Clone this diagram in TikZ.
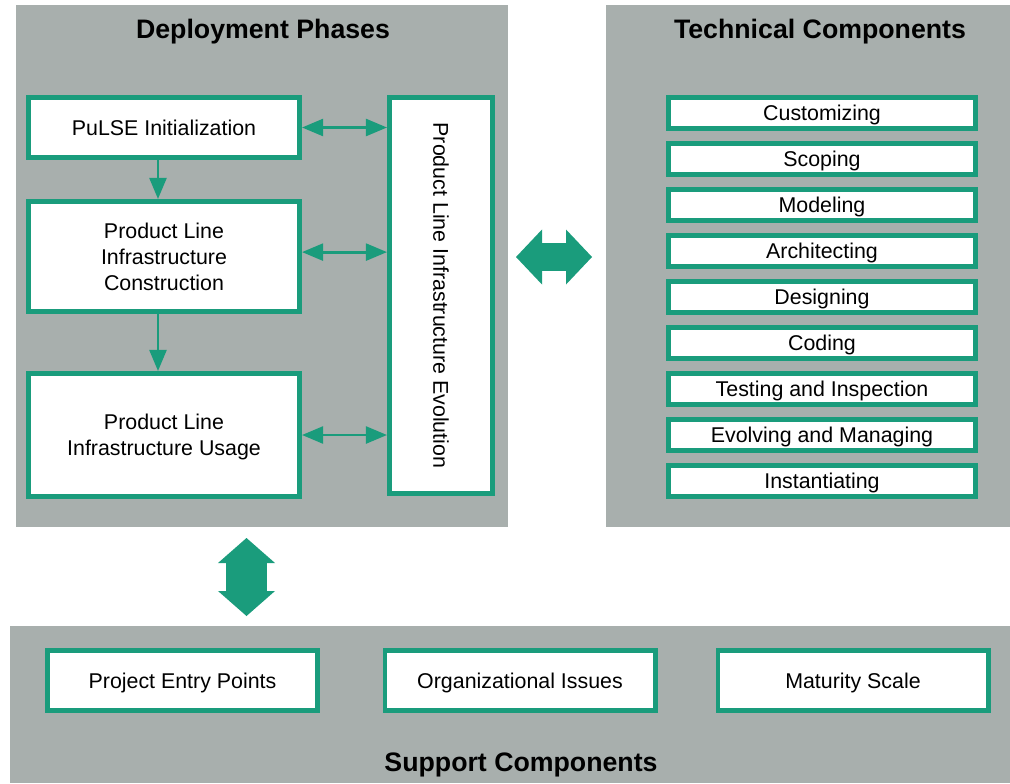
\documentclass[tikz,border=0pt]{standalone}
\usepackage{fontspec}
\setmainfont{Liberation Sans}
\usepackage{xcolor}
\usetikzlibrary{arrows.meta,positioning}

\definecolor{panelgray}{HTML}{A8AFAD}
\definecolor{pulsegreen}{HTML}{1A9C7C}

\tikzset{
	panel/.style={fill=panelgray, draw=none, inner sep=0pt},
	paneltitle/.style={font=\bfseries\fontsize{19}{22}\selectfont},
	phasebox/.style={draw=pulsegreen, line width=3.5pt, fill=white, align=center, inner sep=0pt, text depth=0pt, minimum width=6.775cm, font=\fontsize{15.2}{18.5}\selectfont},
	techbox/.style={phasebox, minimum width=7.675cm, minimum height=0.775cm},
	supbox/.style={phasebox, minimum width=6.75cm, minimum height=1.5cm},
	link/.style={pulsegreen, line width=2pt, {Triangle[length=15pt,width=12pt]}-{Triangle[length=15pt,width=12pt]}},
	flow/.style={pulsegreen, line width=2pt, -{Triangle[length=15pt,width=12pt]}},
	bigarrowh/.style={pulsegreen, line width=0.7cm, {Triangle[length=0.65cm,width=1.375cm,line width=0pt]}-{Triangle[length=0.65cm,width=1.375cm,line width=0pt]}},
	bigarrowv/.style={pulsegreen, line width=1cm, {Triangle[length=0.625cm,width=1.425cm,line width=0pt]}-{Triangle[length=0.625cm,width=1.425cm,line width=0pt]}}
}

\begin{document}
\begin{tikzpicture}[x=0.025cm, y=-0.025cm]
	\useasboundingbox (0,0) rectangle (1010,783);

	% panels
	\node[panel, minimum width=12.3cm, minimum height=13.05cm] (dep) at (262,266) {};
	\node[paneltitle] (deptitle) at (263,32) {Deployment Phases};

	\node[panel, minimum width=10.1cm, minimum height=13.05cm] (tech) at (808,266) {};
	\node[paneltitle] (techtitle) at (820,32) {Technical Components};

	\node[panel, minimum width=25cm, minimum height=3.925cm] (sup) at (510,704.5) {};
	\node[paneltitle] (suptitle) at (521,765) {Support Components};

	% deployment phases
	\node[phasebox, minimum height=1.5cm] (pi) at (164,127.5) {PuLSE Initialization};
	\node[phasebox, minimum height=2.75cm] (plc) at (164,256.5) {Product Line\\Infrastructure\\Construction};
	\node[phasebox, minimum height=3.075cm] (plu) at (164,435) {Product Line\\Infrastructure Usage};
	\node[phasebox, rotate=-90, minimum width=9.9cm, minimum height=2.575cm] (evol) at (441,295.5) {Product Line Infrastructure Evolution};

	\draw[flow] ([xshift=-0.15cm]pi.south) -- ([xshift=-0.15cm]pi.south |- plc.north);
	\draw[flow] ([xshift=-0.15cm]plc.south) -- ([xshift=-0.15cm]plc.south |- plu.north);

	\draw[link] (pi.east) -- (pi.east -| evol.south);
	\draw[link] ([yshift=0.11cm]plc.east) -- ([yshift=0.11cm]plc.east -| evol.south);
	\draw[link] (plu.east) -- (plu.east -| evol.south);

	% technical components
	\node[techbox] (cust) at (822,113) {Customizing};
	\node[techbox] (scop) at (822,159) {Scoping};
	\node[techbox] (mode) at (822,205) {Modeling};
	\node[techbox] (arch) at (822,251) {Architecting};
	\node[techbox] (desi) at (822,297) {Designing};
	\node[techbox] (codi) at (822,343) {Coding};
	\node[techbox] (test) at (822,389) {Testing and Inspection};
	\node[techbox] (evma) at (822,435) {Evolving and Managing};
	\node[techbox] (inst) at (822,481) {Instantiating};

	% support components
	\node[supbox] (pep) at (182.5,680.5) {Project Entry Points};
	\node[supbox] (org) at (520,680.5) {Organizational Issues};
	\node[supbox] (mat) at (853,680.5) {Maturity Scale};

	% big arrows between panels
	\coordinate (deptechl) at (516,257);
	\coordinate (deptechr) at (592,257);
	\draw[bigarrowh] (deptechl) -- (deptechr);

	\coordinate (depsupt) at (246.5,538);
	\coordinate (depsupb) at (246.5,616);
	\draw[bigarrowv] (depsupt) -- (depsupb);
\end{tikzpicture}
\end{document}
